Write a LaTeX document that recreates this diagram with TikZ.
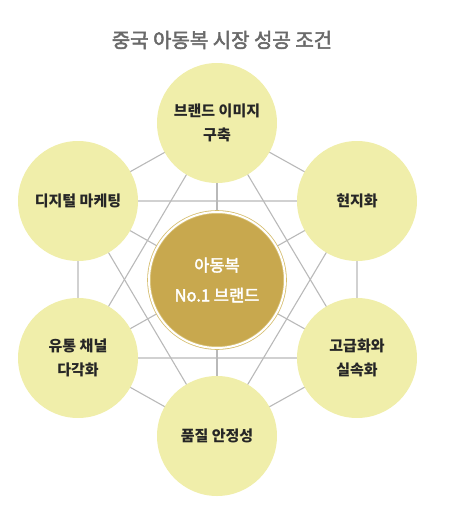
\documentclass[tikz,border=0pt]{standalone}
\usepackage{fontspec}
\setmainfont{Noto Sans CJK KR}
\newfontfamily\krmedium{Noto Sans CJK KR}[FakeBold=2.5]
\usepackage{tikz}
\usetikzlibrary{backgrounds}
\definecolor{kdpale}{RGB}{240, 238, 170}
\definecolor{kdgold}{RGB}{200, 168, 78}
\definecolor{kdring}{RGB}{214, 190, 112}
\definecolor{kdline}{RGB}{185, 185, 185}
\definecolor{kdtitle}{RGB}{105, 105, 105}

\begin{document}
\begin{tikzpicture}[x=1pt, y=-1pt,
  factor/.style={circle, fill=kdpale, minimum size=120pt, inner sep=0pt,
    align=center, font=\fontsize{15}{24}\selectfont\bfseries, text=black!85},
  core/.style={circle, fill=kdgold, draw=kdring, line width=0.8pt,
    double=white, double distance=2pt, minimum size=136pt, inner sep=0pt,
    align=center, font=\krmedium\fontsize{16.5}{30}\selectfont, text=white},
  link/.style={kdline, line width=1.1pt}]

  \useasboundingbox (0,0) rectangle (450,523);

  % --- title ---
  \node[font=\krmedium\fontsize{20}{22}\selectfont, text=kdtitle] (title)
    at (222,40) {중국 아동복 시장 성공 조건};

  % --- centre ---
  \node[core] (core) at (217,280) {아동복\\No.1 브랜드};

  % --- six conditions on a hexagon ---
  \node[factor] (brand)   at (217,123) {브랜드 이미지\\구축};
  \node[factor] (local)   at (357,201) {현지화};
  \node[factor] (premium) at (357,358) {고급화와\\실속화};
  \node[factor] (quality) at (217,436) {품질 안정성};
  \node[factor] (channel) at (78,358)  {유통 채널\\다각화};
  \node[factor] (digital) at (78,201)  {디지털 마케팅};

  % --- connections behind the circles ---
  \begin{scope}[on background layer]
    % hexagon sides
    \draw[link] (brand.center) -- (local.center) -- (premium.center)
      -- (quality.center) -- (channel.center) -- (digital.center)
      -- (brand.center);
    % two triangles
    \draw[link] (brand.center) -- (premium.center) -- (channel.center)
      -- (brand.center);
    \draw[link] (local.center) -- (quality.center) -- (digital.center)
      -- (local.center);
    % spokes
    \foreach \n in {brand, local, premium, quality, channel, digital}
      \draw[link] (core.center) -- (\n.center);
  \end{scope}

\end{tikzpicture}
\end{document}
